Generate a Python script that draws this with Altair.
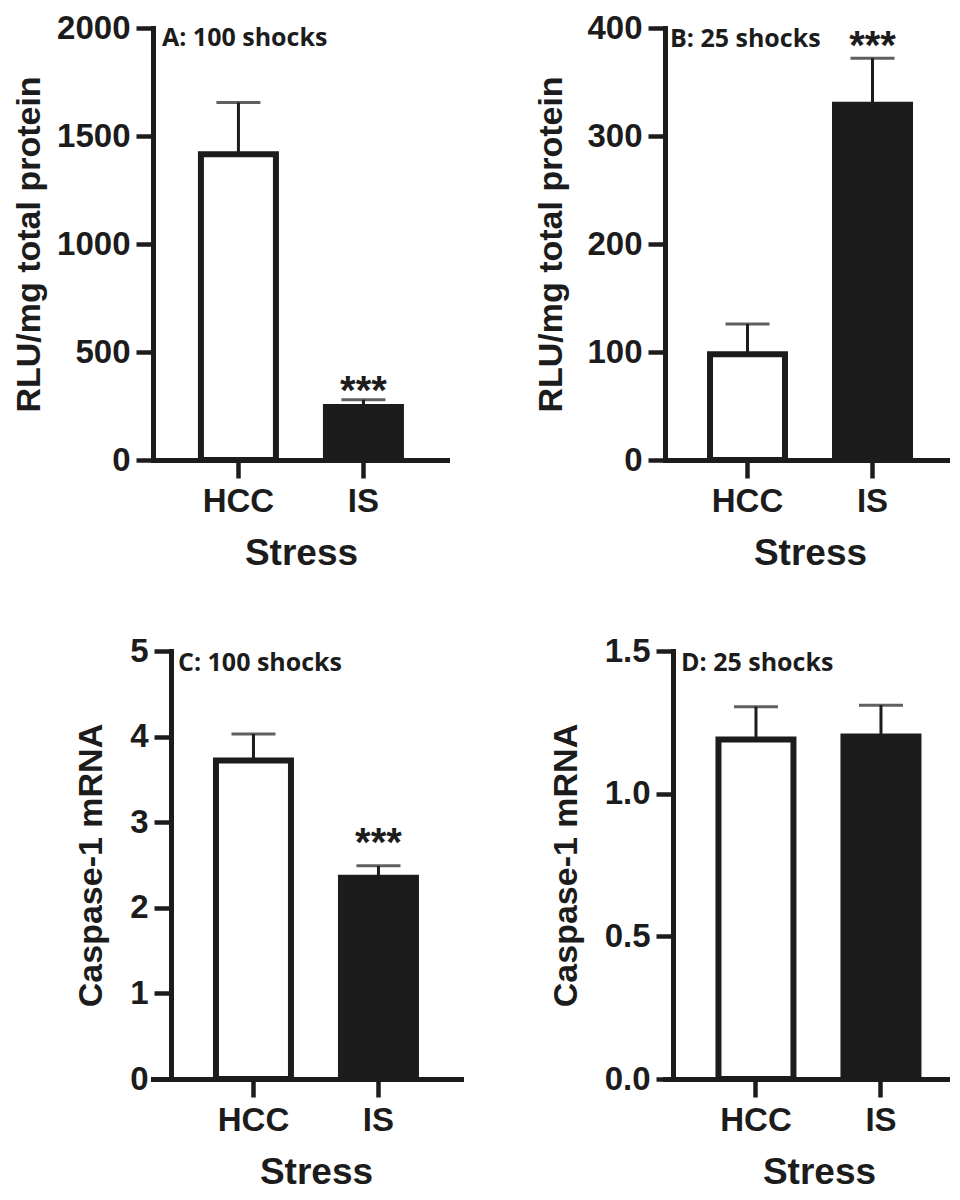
import altair as alt
import pandas as pd

# ---------------- data ----------------
categories = ["HCC", "IS"]
group_fill = ["#ffffff", "#1c1c1c"]

panel_labels = ["A: 100 shocks", "B: 25 shocks", "C: 100 shocks", "D: 25 shocks"]
y_titles = ["RLU/mg total protein", "RLU/mg total protein",
            "Caspase-1 mRNA", "Caspase-1 mRNA"]
x_title = "Stress"

a_mean = [1415, 245]
a_sem = [240, 34]
b_mean = [98, 329]
b_sem = [28, 43]
c_mean = [3.72, 2.35]
c_sem = [0.31, 0.14]
d_mean = [1.19, 1.20]
d_sem = [0.115, 0.11]

a_ticks = [0, 500, 1000, 1500, 2000]
b_ticks = [0, 100, 200, 300, 400]
c_ticks = [0, 1, 2, 3, 4, 5]
d_ticks = [0.0, 0.5, 1.0, 1.5]

# significance marks: (group, y position of the mark, text)
a_sig = ["IS", 358, "***"]
b_sig = ["IS", 391, "***"]
c_sig = ["IS", 2.85, "***"]

# ---------------- style ----------------
INK = "#1c1c1c"
NUM_FONT = "Liberation Sans"
LBL_FONT = "Open Sans"


def panel(mean, sem, ticks, fmt, ytitle, label, sig, g):
    df = pd.DataFrame({
        "group": categories,
        "mean": mean,
        "upper": [m + s for m, s in zip(mean, sem)],
    })
    xscale = alt.Scale(domain=categories, paddingInner=0.4,
                       paddingOuter=g["po"], align=g["align"])
    yscale = alt.Scale(domain=[ticks[0], ticks[-1]], nice=False, zero=True)

    xaxis = alt.Axis(
        title=x_title, labelAngle=0, grid=False,
        domainColor=INK, domainWidth=5, domainCap="square",
        tickColor=INK, tickSize=18, tickWidth=4.5,
        labelFont=NUM_FONT, labelFontSize=33, labelFontWeight="bold",
        labelColor=INK, labelPadding=7,
        titleFont=NUM_FONT, titleFontSize=37, titleFontWeight="bold",
        titleColor=INK, titleX=g["xtx"], titleY=104,
        titleBaseline="alphabetic", titleAlign="center",
    )
    yaxis = alt.Axis(
        title=ytitle, values=ticks, format=fmt, grid=False, offset=g["yoff"],
        domainColor=INK, domainWidth=5, domainCap="square",
        tickColor=INK, tickSize=17, tickWidth=4.5,
        labelFont=NUM_FONT, labelFontSize=33, labelFontWeight="bold",
        labelColor=INK, labelPadding=6, labelOverlap=False,
        titleFont=NUM_FONT, titleFontSize=34, titleFontWeight="bold",
        titleColor=INK, titleAngle=270, titleX=g["ytx"], titleY=g["h"] / 2,
        titleBaseline="alphabetic", titleAlign="center",
    )

    base = alt.Chart(df)
    bars = base.mark_bar(stroke=INK, strokeWidth=6, strokeJoin="miter").encode(
        x=alt.X("group:N", scale=xscale, axis=xaxis, sort=categories),
        y=alt.Y("mean:Q", scale=yscale, axis=yaxis),
        fill=alt.Fill("group:N", scale=alt.Scale(domain=categories, range=group_fill),
                      legend=None),
    )
    rule = base.mark_rule(color=INK, strokeWidth=3).encode(
        x=alt.X("group:N", scale=xscale, sort=categories),
        y=alt.Y("mean:Q", scale=yscale),
        y2="upper:Q",
    )
    cap = base.mark_tick(color=INK, thickness=3, size=44).encode(
        x=alt.X("group:N", scale=xscale, sort=categories),
        y=alt.Y("upper:Q", scale=yscale),
    )
    layers = [bars, rule, cap]
    if sig is not None:
        sdf = pd.DataFrame({"group": [sig[0]], "sy": [sig[1]], "txt": [sig[2]]})
        stars = alt.Chart(sdf).mark_text(
            font=NUM_FONT, fontWeight="bold", fontSize=40, color=INK,
            baseline="alphabetic", align="center", dy=21,
        ).encode(
            x=alt.X("group:N", scale=xscale, sort=categories),
            y=alt.Y("sy:Q", scale=yscale),
            text="txt:N",
        )
        layers.append(stars)
    ldf = pd.DataFrame({"lab": [label]})
    lab = alt.Chart(ldf).mark_text(
        font=LBL_FONT, fontWeight="bold", fontSize=25, color=INK,
        align="left", baseline="alphabetic",
    ).encode(x=alt.value(g["lx"]), y=alt.value(g["ly"]), text="lab:N")
    layers.append(lab)
    return alt.layer(*layers).properties(width=g["w"], height=g["h"])


geoA = dict(w=294, h=432, yoff=0, po=0.376, align=0.51, ytx=-114, xtx=148, lx=9, ly=18)
geoB = dict(w=290, h=432, yoff=0, po=0.36, align=0.5, ytx=-104, xtx=145, lx=5, ly=19)
geoC = dict(w=308, h=428, yoff=-18, po=0.432, align=0.583, ytx=-70, xtx=163, lx=25, ly=20)
geoD = dict(w=296, h=428, yoff=-8, po=0.384, align=0.557, ytx=-97, xtx=154, lx=16, ly=20)

pA = panel(a_mean, a_sem, a_ticks, "d", y_titles[0], panel_labels[0], a_sig, geoA)
pB = panel(b_mean, b_sem, b_ticks, "d", y_titles[1], panel_labels[1], b_sig, geoB)
pC = panel(c_mean, c_sem, c_ticks, "d", y_titles[2], panel_labels[2], c_sig, geoC)
pD = panel(d_mean, d_sem, d_ticks, ".1f", y_titles[3], panel_labels[3], None, geoD)

chart = alt.concat(
    pA, pB, pC, pD, columns=2, bounds="flush",
    spacing={"row": 191, "column": 204},
).properties(
    padding={"left": 4, "top": 4, "right": -11, "bottom": 0},
).configure_view(stroke=None)

chart.save("out.html", embed_options={"renderer": "svg", "actions": False})
